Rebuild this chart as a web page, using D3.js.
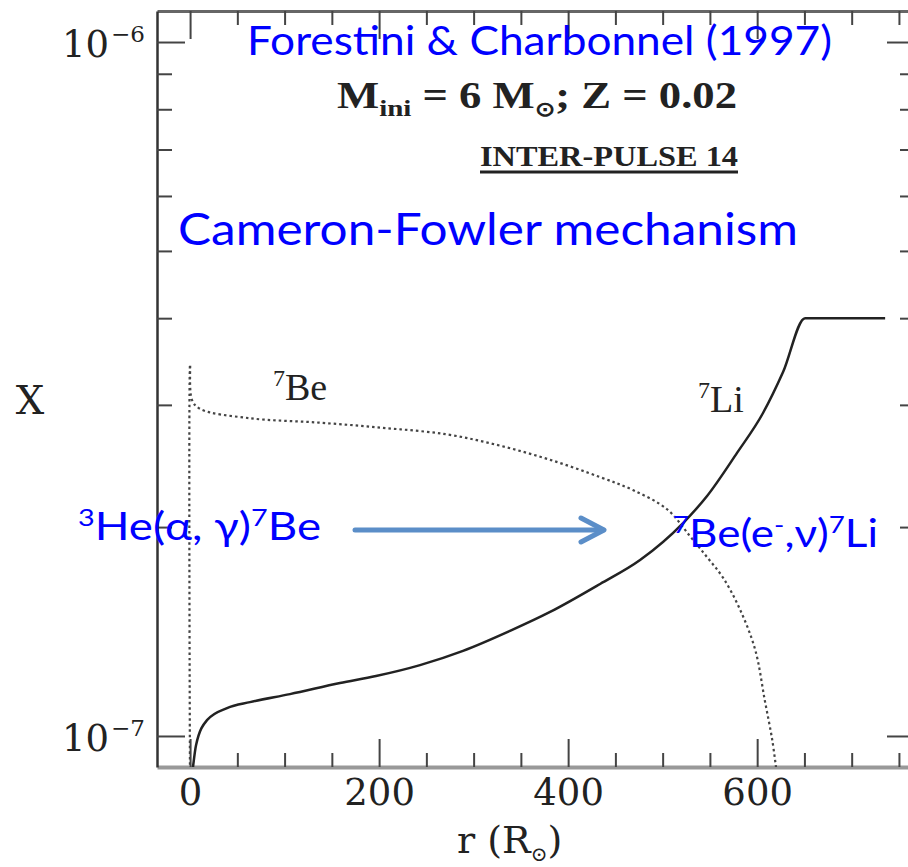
<!DOCTYPE html>
<html>
<head>
<meta charset="utf-8">
<script src="https://cdn.jsdelivr.net/npm/d3@7/dist/d3.min.js"></script>
<style>
  html, body { margin: 0; padding: 0; background: #fff; }
  svg { display: block; }
</style>
</head>
<body>
<div id="chart"></div>
<script>
// Abundance profiles: r in solar radii, X = mass fraction
const li7R = [3.1, 6.3, 17.9, 39.1, 63.4, 105.7, 158.6, 196.7, 243.3, 288.8, 338.5, 380.9,
              433.8, 476.1, 521.6, 547.0, 578.7, 606.2, 627.4, 650.7, 735.4];
const li7X = [9.02e-8, 9.70e-8, 1.054e-7, 1.097e-7, 1.119e-7, 1.149e-7, 1.192e-7, 1.220e-7, 1.265e-7,
              1.326e-7, 1.417e-7, 1.509e-7, 1.656e-7, 1.793e-7, 2.027e-7, 2.217e-7, 2.558e-7, 2.920e-7,
              3.345e-7, 4.0e-7, 4.0e-7];

const be7R = [0, 0, 2, 10.6, 63, 134, 204, 272, 328, 381, 434, 469, 505, 529, 547, 564, 582, 598, 608, 616, 620];
const be7X = [8.0e-8, 3.43e-7, 3.05e-7, 2.96e-7, 2.87e-7, 2.83e-7, 2.78e-7, 2.72e-7, 2.62e-7, 2.50e-7, 2.36e-7,
              2.26e-7, 2.12e-7, 1.94e-7, 1.81e-7, 1.69e-7, 1.52e-7, 1.33e-7, 1.127e-7, 9.86e-8, 9.0e-8];

// Tick values
const xMajorTicks = [0, 200, 400, 600];
const xMinorTicks = [50, 100, 150, 250, 300, 350, 450, 500, 550, 650, 700, 750];
const yMajorTicks = [1e-7, 1e-6];
const yMajorExponents = ['\u22127', '\u22126'];
const yMinorTicks = [2e-7, 3e-7, 4e-7, 5e-7, 6e-7, 7e-7, 8e-7, 9e-7];

function drawChart() {
    const width = 908;
    const height = 867;
    const left = 157, right = 915, top = 11, bottom = 767;
    const serif = '"DejaVu Serif", serif';
    const sans = 'Lato, "Open Sans", sans-serif';
    const blue = '#0000ff';

    const svg = d3.select('#chart')
        .append('svg')
        .attr('width', width)
        .attr('height', height);

    const x = d3.scaleLinear().domain([-35, 767]).range([left, right]);
    const y = d3.scaleLog().domain([Math.pow(10, -7.0447), Math.pow(10, -5.9553)]).range([bottom, top]);

    // Clip for curves
    svg.append('clipPath').attr('id', 'plot-clip')
        .append('rect')
        .attr('x', left).attr('y', top)
        .attr('width', right - left).attr('height', bottom - top);

    // Axes: ticks point inward
    const addAxis = (axis, transform, cls) => svg.append('g')
        .attr('class', cls)
        .attr('transform', transform)
        .call(axis);

    addAxis(d3.axisBottom(x).tickValues(xMajorTicks).tickSizeInner(-28).tickSizeOuter(0).tickPadding(12)
        .tickFormat(d3.format('d')), `translate(0,${bottom})`, 'axis x-bottom');
    addAxis(d3.axisBottom(x).tickValues(xMinorTicks).tickSizeInner(-14).tickSizeOuter(0).tickFormat(''),
        `translate(0,${bottom})`, 'axis minor');
    addAxis(d3.axisTop(x).tickValues(xMajorTicks).tickSizeInner(-28).tickSizeOuter(0).tickFormat(''),
        `translate(0,${top})`, 'axis x-top');
    addAxis(d3.axisTop(x).tickValues(xMinorTicks).tickSizeInner(-14).tickSizeOuter(0).tickFormat(''),
        `translate(0,${top})`, 'axis minor');
    addAxis(d3.axisLeft(y).tickValues(yMajorTicks).tickSizeInner(-28).tickSizeOuter(0).tickFormat(''),
        `translate(${left},0)`, 'axis y-left');
    addAxis(d3.axisLeft(y).tickValues(yMinorTicks).tickSizeInner(-15).tickSizeOuter(0).tickFormat(''),
        `translate(${left},0)`, 'axis minor');
    addAxis(d3.axisRight(y).tickValues(yMajorTicks).tickSizeInner(-28).tickSizeOuter(0).tickFormat(''),
        `translate(${right},0)`, 'axis y-right');
    addAxis(d3.axisRight(y).tickValues(yMinorTicks).tickSizeInner(-15).tickSizeOuter(0).tickFormat(''),
        `translate(${right},0)`, 'axis minor');

    svg.selectAll('.axis line').attr('stroke', '#444').attr('stroke-width', 2);
    svg.selectAll('.axis.minor path').remove();
    svg.select('.y-left path').attr('stroke', '#333').attr('stroke-width', 2.5);
    svg.select('.y-right path').attr('stroke', '#555').attr('stroke-width', 2.5);
    svg.select('.x-top path').attr('stroke', '#666').attr('stroke-width', 3);
    svg.select('.x-bottom path').attr('stroke', '#999').attr('stroke-width', 4);
    svg.selectAll('.x-bottom text')
        .attr('font-family', serif)
        .attr('font-size', 37)
        .attr('fill', '#222');

    // Y tick labels as powers of ten
    svg.selectAll('.ylab')
        .data(yMajorTicks)
        .join('text')
        .attr('class', 'ylab')
        .attr('x', 62)
        .attr('y', d => y(d) + 15)
        .attr('font-family', serif)
        .attr('font-size', 37)
        .attr('fill', '#222')
        .each(function(d, i) {
            d3.select(this).append('tspan').text('10');
            d3.select(this).append('tspan')
                .attr('dy', -15)
                .attr('dx', 2)
                .attr('font-size', 23)
                .text(yMajorExponents[i]);
        });

    // Axis titles
    svg.append('text')
        .attr('x', 30).attr('y', 414)
        .attr('text-anchor', 'middle')
        .attr('font-family', serif)
        .attr('font-size', 40)
        .attr('fill', '#222')
        .text('X');

    const rLabel = svg.append('text')
        .attr('x', 457).attr('y', 853)
        .attr('font-family', serif)
        .attr('font-size', 38)
        .attr('fill', '#222');
    rLabel.append('tspan').text('r  (R');
    rLabel.append('tspan').attr('dy', 8).attr('font-size', 20).text('\u2299');
    rLabel.append('tspan').attr('dy', -8).text(')');

    // Curves
    const li7 = li7R.map((r, i) => [r, li7X[i]]);
    const be7 = be7R.map((r, i) => [r, be7X[i]]);

    svg.append('path')
        .datum(li7)
        .attr('clip-path', 'url(#plot-clip)')
        .attr('fill', 'none')
        .attr('stroke', '#222')
        .attr('stroke-width', 2.5)
        .attr('d', d3.line().x(d => x(d[0])).y(d => y(d[1])).curve(d3.curveMonotoneX));

    svg.append('path')
        .datum(be7)
        .attr('clip-path', 'url(#plot-clip)')
        .attr('fill', 'none')
        .attr('stroke', '#444')
        .attr('stroke-width', 2.2)
        .attr('stroke-dasharray', '2.5,3')
        .attr('d', d3.line().x(d => x(d[0])).y(d => y(d[1])).curve(d3.curveCatmullRom.alpha(0.5)));

    // Curve labels
    const isoLabel = (px, py, mass, name) => {
        const t = svg.append('text')
            .attr('x', px).attr('y', py)
            .attr('font-family', '"Liberation Serif", serif')
            .attr('font-size', 38)
            .attr('fill', '#222');
        t.append('tspan').attr('font-size', 24).attr('dy', -14).text(mass);
        t.append('tspan').attr('dy', 14).text(name);
    };
    isoLabel(273, 400, '7', 'Be');
    isoLabel(698, 412, '7', 'Li');

    // Header texts
    svg.append('text')
        .attr('x', 247).attr('y', 55)
        .attr('font-family', sans)
        .attr('font-size', 40)
        .attr('fill', blue)
        .attr('textLength', 585)
        .attr('lengthAdjust', 'spacingAndGlyphs')
        .text('Forestini & Charbonnel (1997)');

    const mass = svg.append('text')
        .attr('x', 337).attr('y', 108)
        .attr('font-family', '"Liberation Serif", serif')
        .attr('font-weight', 'bold')
        .attr('font-size', 37)
        .attr('fill', '#222')
        .attr('textLength', 400)
        .attr('lengthAdjust', 'spacingAndGlyphs');
    mass.append('tspan').text('M');
    mass.append('tspan').attr('dy', 8).attr('font-size', 24).text('ini');
    mass.append('tspan').attr('dy', -8).text(' = 6 M');
    mass.append('tspan').attr('dy', 8).attr('font-size', 20).text('\u2299');
    mass.append('tspan').attr('dy', -8).text('; Z = 0.02');

    svg.append('text')
        .attr('x', 480).attr('y', 166)
        .attr('font-family', '"Liberation Serif", serif')
        .attr('font-weight', 'bold')
        .attr('font-size', 29)
        .attr('fill', '#222')
        .attr('textLength', 258)
        .attr('lengthAdjust', 'spacingAndGlyphs')
        .text('INTER-PULSE 14');
    svg.append('line')
        .attr('x1', 480).attr('x2', 738)
        .attr('y1', 172).attr('y2', 172)
        .attr('stroke', '#222')
        .attr('stroke-width', 3);

    svg.append('text')
        .attr('x', 178).attr('y', 245)
        .attr('font-family', sans)
        .attr('font-size', 44)
        .attr('fill', blue)
        .attr('textLength', 620)
        .attr('lengthAdjust', 'spacingAndGlyphs')
        .text('Cameron-Fowler mechanism');

    // Reaction annotations
    const reaction = (px, py, len, parts) => {
        const t = svg.append('text')
            .attr('x', px).attr('y', py)
            .attr('font-family', sans)
            .attr('font-size', 38)
            .attr('fill', blue)
            .attr('textLength', len)
            .attr('lengthAdjust', 'spacingAndGlyphs');
        parts.forEach(p => {
            t.append('tspan')
                .attr('dy', p.dy || 0)
                .attr('font-size', p.small ? 24 : 38)
                .text(p.s);
        });
    };
    reaction(78, 540, 243, [
        { s: '3', small: true, dy: -14 }, { s: 'He(', dy: 14 }, { s: '\u03b1, \u03b3)' },
        { s: '7', small: true, dy: -14 }, { s: 'Be', dy: 14 }
    ]);
    reaction(673, 547, 205, [
        { s: '7', small: true, dy: -14 }, { s: 'Be(e', dy: 14 }, { s: '-', small: true, dy: -14 },
        { s: ',\u03bd)', dy: 14 }, { s: '7', small: true, dy: -14 }, { s: 'Li', dy: 14 }
    ]);

    // Arrow between reactions
    const arrow = svg.append('g')
        .attr('fill', 'none')
        .attr('stroke', '#5b8ec8')
        .attr('stroke-width', 5)
        .attr('stroke-linecap', 'round')
        .attr('stroke-linejoin', 'round');
    arrow.append('line')
        .attr('x1', 355).attr('y1', 530).attr('x2', 603).attr('y2', 530);
    arrow.append('polyline')
        .attr('points', '581,518 604,530 581,542');
}

drawChart();
</script>
</body>
</html>
